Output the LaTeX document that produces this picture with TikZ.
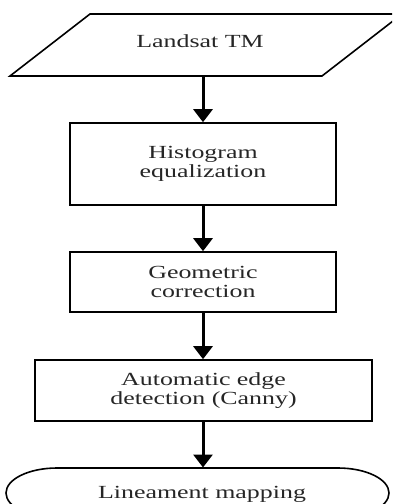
\documentclass[tikz,border=0pt]{standalone}
\usepackage{fontspec}
\setmainfont[FakeStretch=1.4]{Liberation Serif}
\usetikzlibrary{arrows.meta}
\definecolor{txt}{HTML}{262626}
\tikzset{
  stepbox/.style={draw=black, line width=1.6pt, rectangle, inner sep=0pt, align=center, text=txt, font=\fontsize{18.5}{18.5}\selectfont},
  lbl/.style={inner sep=0pt, align=center, text=txt, font=\fontsize{18.5}{18.5}\selectfont},
  flow/.style={line width=3pt, -{Triangle[width=19pt,length=13pt]}},
  outline/.style={draw=black, line width=1.6pt}
}
\begin{document}
\begin{tikzpicture}[x=1pt,y=-1pt]
\useasboundingbox (0,0) rectangle (392,504);
\clip (0,0) rectangle (392,504);
% input parallelogram
\draw[outline] (10,76) -- (90,14) -- (402,14) -- (322,76) -- cycle;
\node[lbl, anchor=base] (land) at (200,47.5) {Landsat TM};
\coordinate (landb) at (203,76.8);
% process boxes
\node[stepbox, minimum width=266pt, minimum height=82pt] (hist) at (203,164) {Histogram\\equalization};
\node[stepbox, minimum width=266pt, minimum height=60pt] (geo) at (203,282) {Geometric\\correction};
\node[stepbox, minimum width=337pt, minimum height=61pt] (edge) at (203.5,390.5) {Automatic edge\\detection (Canny)};
% terminal
\draw[outline] (57,468) -- (338,468) arc[start angle=-90, end angle=90, x radius=51, y radius=25] -- (57,518) arc[start angle=90, end angle=270, x radius=51, y radius=25] -- cycle;
\node[lbl, anchor=base] (lin) at (202,498) {Lineament mapping};
\coordinate (lint) at (203,467.5);
% connectors
\draw[flow] (landb) -- (hist.north -| landb);
\draw[flow] (hist.south -| landb) -- (geo.north -| landb);
\draw[flow] (geo.south -| landb) -- (edge.north -| landb);
\draw[flow] (edge.south -| landb) -- (lint);
\end{tikzpicture}
\end{document}
